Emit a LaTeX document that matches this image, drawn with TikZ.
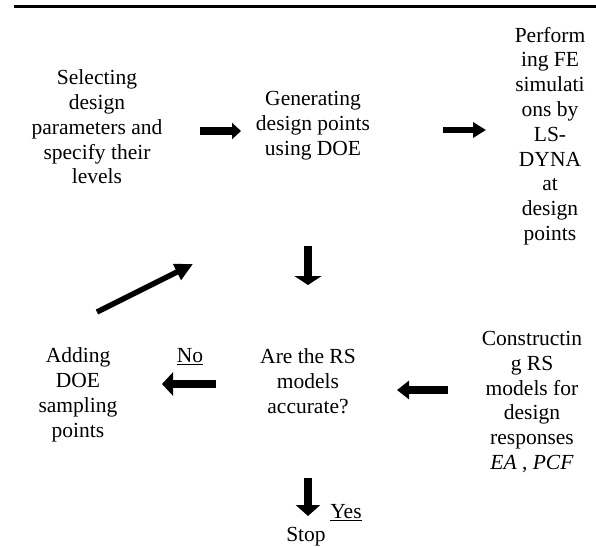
\documentclass[tikz,border=0pt]{standalone}
\usepackage{fontspec}
\setmainfont{Liberation Serif}
\usetikzlibrary{arrows.meta}
\tikzset{
  lbl/.style={align=center, inner sep=0pt, font=\fontsize{21.5}{24.8}\selectfont},
  fat/.style={line width=8pt, -{Triangle[length=#1]}},
}
\begin{document}
\begin{tikzpicture}[x=1pt,y=-1pt]
\useasboundingbox (0,0) rectangle (596,546);
\fill[white] (0,0) rectangle (596,546);
% top rule
\coordinate (r1) at (14,6.5);
\coordinate (r2) at (596,6.5);
\draw[line width=2.2pt] (r1) -- (r2);
% text nodes
\node[lbl] (sel) at (97,127) {Selecting\\design\\parameters and\\specify their\\levels};
\node[lbl] (gen) at (313,126) {Generating\\design points\\using DOE};
\node[lbl] (fe) at (550,136) {Perform\\ing FE\\simulati\\ons by\\LS-\\DYNA\\at\\design\\points};
\node[lbl] (add) at (78,395) {Adding\\DOE\\sampling\\points};
\node[lbl] (acc) at (308,381) {Are the RS\\models\\accurate?};
\node[lbl] (rs) at (532,402) {Constructin\\g RS\\models for\\design\\responses\\\textit{EA} , \textit{PCF}};
\node[lbl] (stop) at (306,537) {Stop};
\node[lbl] (no) at (190,357) {\underline{No}};
\node[lbl] (yes) at (346,513) {\underline{Yes}};
% arrow end points
\coordinate (a1s) at (200,131); \coordinate (a1e) at (241,131);
\coordinate (a2s) at (443,130); \coordinate (a2e) at (486,130);
\coordinate (a3s) at (308,246); \coordinate (a3e) at (308,285);
\coordinate (a4s) at (97,312);  \coordinate (a4e) at (193,264);
\coordinate (a5s) at (216,384); \coordinate (a5e) at (162,384);
\coordinate (a6s) at (448,390); \coordinate (a6e) at (397,390);
\coordinate (a7s) at (308,478); \coordinate (a7e) at (308,516);
% arrows
\draw[line width=8pt, -{Triangle[length=9pt,width=16pt]}] (a1s) -- (a1e);
\draw[line width=6pt, -{Triangle[length=13pt,width=15pt]}] (a2s) -- (a2e);
\draw[line width=8pt, -{Triangle[length=9pt,width=27pt]}] (a3s) -- (a3e);
\draw[line width=5.5pt, -{Triangle[length=18pt,width=17pt]}] (a4s) -- (a4e);
\draw[line width=8pt, -{Triangle[length=11pt,width=23pt]}] (a5s) -- (a5e);
\draw[line width=8pt, -{Triangle[length=12pt,width=18pt]}] (a6s) -- (a6e);
\draw[line width=8pt, -{Triangle[length=11pt,width=24pt]}] (a7s) -- (a7e);
\end{tikzpicture}
\end{document}
